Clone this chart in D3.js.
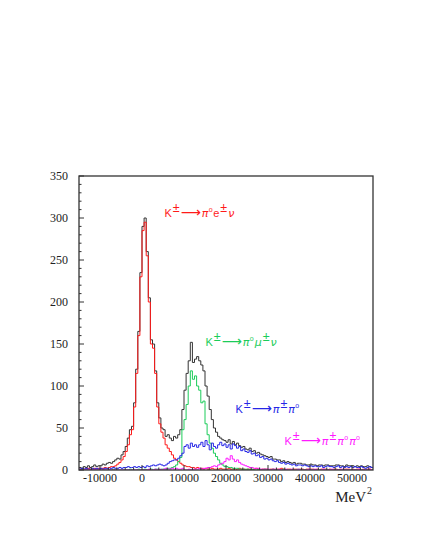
<!DOCTYPE html>
<html><head><meta charset="utf-8">
<script src="https://cdn.jsdelivr.net/npm/d3@7/dist/d3.min.js"></script>
<style>body{margin:0;background:#fff}svg{display:block}</style>
</head><body>
<script>
// Histogram bins: 500 MeV^2 wide, from -15000 to 55000 (140 bins), 10 bins per row
const binStart = -15000, binWidth = 500;
const yTicks = [0, 50, 100, 150, 200, 250, 300, 350];
const xTicks = [-10000, 0, 10000, 20000, 30000, 40000, 50000];
const xUnit = "MeV";

const dataCounts = [
  3,2,4,3,5,3,4,6,4,5,
  5,7,6,8,9,8,10,12,14,13,
  18,22,28,38,48,52,80,120,165,235,
  290,300,260,205,155,150,118,80,62,50,
  48,40,42,38,35,40,38,42,48,72,
  95,115,130,152,128,132,135,130,125,118,
  100,88,72,60,50,45,40,38,36,35,
  33,36,31,34,30,32,29,27,28,25,
  24,26,22,23,20,21,19,18,17,16,
  15,16,13,13,12,12,10,11,9,10,
  9,8,9,7,8,8,7,7,6,6,
  7,6,6,5,6,6,5,6,6,5,
  5,5,6,6,5,5,4,6,5,5,
  5,4,5,4,5,4,4,5,4,3
];
const ke3 = [
  1,0,1,1,2,1,1,2,1,2,
  2,2,3,2,3,4,4,5,7,9,
  12,16,22,30,42,48,75,115,160,230,
  285,295,255,200,150,145,115,75,55,45,
  38,30,26,22,18,14,12,10,8,6,
  5,4,4,3,3,2,3,2,2,1,
  2,1,1,2,1,1,1,2,1,1,
  1,2,1,1,0,1,2,1,1,0,
  1,1,0,1,2,1,0,1,1,1,
  0,1,1,0,1,1,2,1,0,1,
  1,0,1,1,0,1,1,0,1,1,
  1,1,0,1,0,1,1,1,0,1,
  0,1,1,0,1,0,1,1,1,0,
  1,0,1,1,0,1,0,1,1,0
];
const kmu3 = [
  0,0,0,0,0,0,0,0,0,0,
  0,0,0,0,0,0,1,0,0,0,
  0,0,0,0,1,0,0,0,1,0,
  0,1,0,0,1,0,1,1,0,1,
  1,1,2,2,3,4,6,10,15,48,
  60,78,100,118,108,112,100,95,80,82,
  55,42,32,26,20,16,12,8,6,4,
  4,3,3,2,2,2,1,1,1,1,
  1,0,1,0,0,1,0,0,1,0,
  0,0,1,0,0,0,0,1,0,0,
  0,0,0,0,1,0,0,0,0,0,
  0,0,0,0,0,0,0,0,0,0,
  0,0,0,0,0,0,0,0,0,0,
  0,0,0,0,0,0,0,0,0,0
];
const kpipi0 = [
  1,2,1,2,1,1,2,1,2,1,
  2,1,2,2,1,2,3,2,2,3,
  2,3,3,4,3,3,4,3,4,3,
  4,3,5,4,5,6,5,6,7,6,
  5,6,8,10,11,12,12,14,17,20,
  28,30,26,32,28,30,27,30,33,28,
  35,30,24,32,28,26,30,33,29,31,
  27,30,25,31,29,26,28,23,25,22,
  21,23,19,20,17,18,15,16,13,14,
  12,13,11,10,11,9,8,9,7,8,
  7,6,7,5,6,6,5,6,5,4,
  5,4,5,4,4,5,3,4,5,4,
  4,3,4,5,3,4,3,4,3,4,
  3,4,3,3,4,3,2,3,4,3
];
const kpi2pi0 = [
  0,0,0,0,0,0,0,0,0,0,
  0,0,0,0,0,0,0,0,0,0,
  0,0,0,0,0,0,0,0,0,0,
  0,0,0,1,0,0,1,0,1,0,
  1,2,1,1,2,1,2,1,1,2,
  0,0,1,0,1,1,1,2,1,2,
  2,3,3,4,5,4,6,7,8,10,
  14,12,17,13,10,12,9,7,6,5,
  4,3,3,2,2,2,1,1,1,1,
  1,0,1,1,0,1,0,0,1,0,
  0,1,0,0,1,0,0,0,0,1,
  0,0,1,0,0,0,1,0,0,0,
  1,0,0,0,0,1,0,0,0,0,
  0,0,0,1,0,0,0,0,1,0
];

const W = 425, H = 550;
const svg = d3.select("body").append("svg").attr("width", W).attr("height", H);
const x = d3.scaleLinear().domain([-15000, 55000]).range([79, 373]);
const y = d3.scaleLinear().domain([0, 350]).range([470, 176]);

svg.append("clipPath").attr("id", "pc").append("rect")
  .attr("x", x.range()[0]).attr("y", y.range()[1])
  .attr("width", x.range()[1] - x.range()[0]).attr("height", y.range()[0] - y.range()[1]);

function stepPts(arr) {
  const pts = arr.map((v, i) => [binStart + i * binWidth, v]);
  pts.push([binStart + arr.length * binWidth, arr[arr.length - 1]]);
  return pts;
}
const line = d3.line().x(d => x(d[0])).y(d => y(d[1])).curve(d3.curveStepAfter);

const series = [
  {vals: dataCounts, color: "#333333"},
  {vals: ke3, color: "#ff1a1a"},
  {vals: kmu3, color: "#1ccc5a"},
  {vals: kpipi0, color: "#2626e6"},
  {vals: kpi2pi0, color: "#ff1aff"}
];
const g = svg.append("g").attr("clip-path", "url(#pc)");
series.forEach(s => {
  g.append("path").attr("d", line(stepPts(s.vals)))
    .attr("fill", "none").attr("stroke", s.color).attr("stroke-width", 1);
});

// Frame
svg.append("rect").attr("x", 79).attr("y", 176).attr("width", 294).attr("height", 294)
  .attr("fill", "none").attr("stroke", "#333").attr("stroke-width", 1.3);

// Y ticks (inward)
const yMinor = d3.range(0, 351, 10);
svg.append("g").selectAll("line").data(yMinor).join("line")
  .attr("x1", x(-15000)).attr("x2", d => x(-15000) + (d % 50 === 0 ? 5 : 2.5))
  .attr("y1", d => y(d)).attr("y2", d => y(d))
  .attr("stroke", "#333").attr("stroke-width", 1);
svg.append("g").selectAll("text").data(yTicks).join("text")
  .attr("x", 68).attr("y", d => y(d) + 4)
  .attr("text-anchor", "end")
  .attr("font-family", "Liberation Serif, Times New Roman, serif")
  .attr("font-size", 12).attr("fill", "#222")
  .text(d => d);

// X ticks (inward)
const xMinor = d3.range(-14000, 55001, 2000);
svg.append("g").selectAll("line").data(xMinor).join("line")
  .attr("x1", d => x(d)).attr("x2", d => x(d))
  .attr("y1", y(0)).attr("y2", d => y(0) - (d % 10000 === 0 ? 5 : 2.5))
  .attr("stroke", "#333").attr("stroke-width", 1);
svg.append("g").selectAll("text").data(xTicks).join("text")
  .attr("x", d => x(d)).attr("y", 482)
  .attr("text-anchor", "middle")
  .attr("font-family", "Liberation Serif, Times New Roman, serif")
  .attr("font-size", 12).attr("fill", "#222")
  .text(d => d < 0 ? "-" + Math.abs(d) : d);

// Axis unit
const ut = svg.append("text").attr("x", 366).attr("y", 502).attr("text-anchor", "end")
  .attr("font-family", "Liberation Serif, Times New Roman, serif")
  .attr("font-size", 15).attr("fill", "#222");
ut.append("tspan").text(xUnit);
ut.append("tspan").attr("x", 367).attr("y", 494).attr("text-anchor", "start").attr("font-size", 10).text("2");

// Process labels
const labels = [
  {x: 164, y: 217, color: "#ff1a1a", parts: [["K","n"],["±","s"],["⟶","a"],["π","g"],["o","d"],["e","n"],["±","s"],["ν","g"]]},
  {x: 205, y: 346, color: "#1ccc5a", parts: [["K","n"],["±","s"],["⟶","a"],["π","g"],["o","d"],["μ","g"],["±","s"],["ν","g"]]},
  {x: 235, y: 413, color: "#2626e6", parts: [["K","n"],["±","s"],["⟶","a"],["π","g"],["±","s"],["π","g"],["o","d"]]},
  {x: 284, y: 445, color: "#ff1aff", parts: [["K","n"],["±","s"],["⟶","a"],["π","g"],["±","s"],["π","g"],["o","d"],["π","g"],["o","d"]]}
];
labels.forEach(L => {
  const t = svg.append("text").attr("x", L.x).attr("y", L.y)
    .attr("font-family", "Liberation Sans, Arial, sans-serif")
    .attr("font-size", 11).attr("fill", L.color);
  let shift = 0;
  L.parts.forEach(([s, k]) => {
    let target = 0, fs = 11, fam = null, style = null, dx = 0;
    if (k === "s") { target = -5; fs = 12.5; dx = 1; }
    else if (k === "d") { target = -5; fs = 7; dx = 0.3; }
    else if (k === "a") { target = 0; fs = 14; fam = "DejaVu Sans"; dx = 1; }
    else if (k === "g") { fam = "DejaVu Sans"; style = "italic"; fs = 11; dx = 1; }
    else if (k === "n") { dx = 0.5; }
    const ts = t.append("tspan").attr("dy", target - shift).attr("dx", dx).attr("font-size", fs).text(s);
    if (fam) ts.attr("font-family", fam);
    if (style) ts.attr("font-style", style);
    shift = target;
  });
});
</script>
</body></html>
